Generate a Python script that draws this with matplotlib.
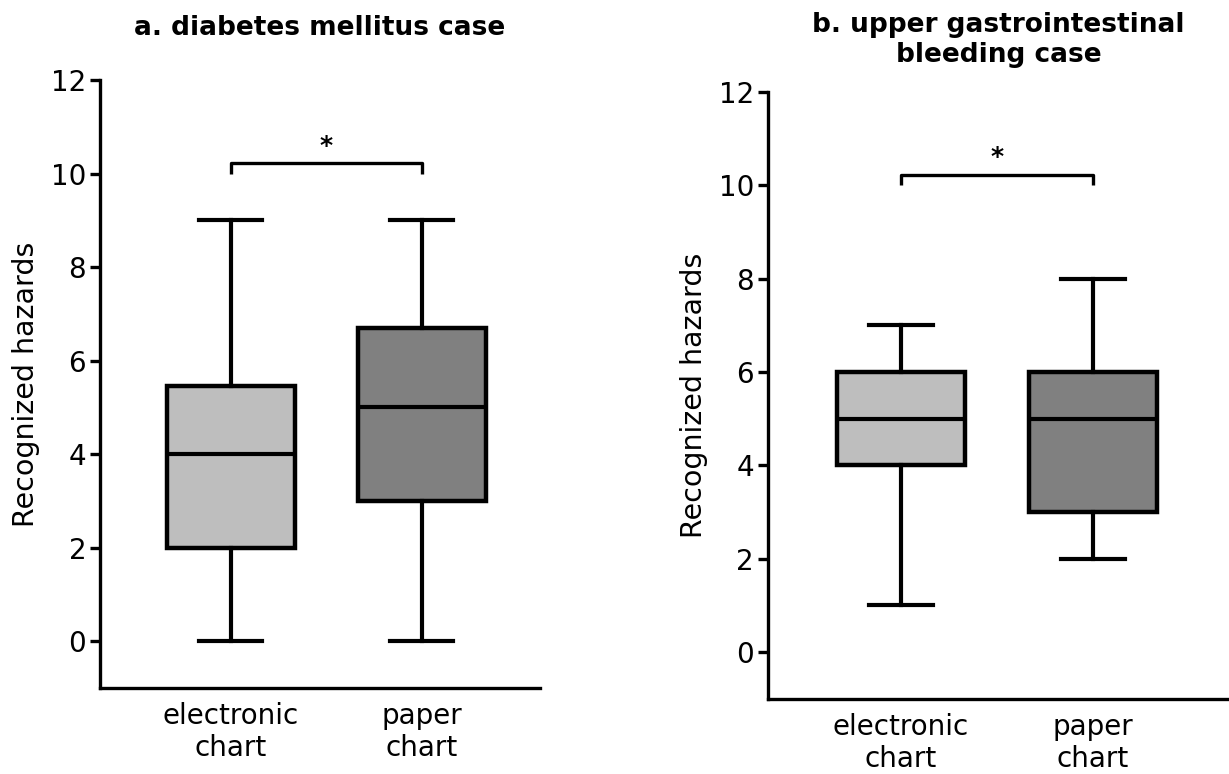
import matplotlib
matplotlib.use("Agg")
import matplotlib.pyplot as plt

plt.rcParams['font.family'] = ['DejaVu Sans']

categories = ["electronic\nchart", "paper\nchart"]
colors = ["#bebebe", "#808080"]

# panel a: diabetes mellitus case
a_whislo = [0, 0]
a_q1 = [2, 3]
a_med = [4, 5]
a_q3 = [5.45, 6.7]
a_whishi = [9, 9]

# panel b: upper gastrointestinal bleeding case
b_whislo = [1, 2]
b_q1 = [4, 3]
b_med = [5, 5]
b_q3 = [6, 6]
b_whishi = [7, 8]

titles = ["a. diabetes mellitus case", "b. upper gastrointestinal\nbleeding case"]

fig = plt.figure(figsize=(12.29, 7.74), dpi=100)
axA = fig.add_axes([0.0814, 0.1111, 0.358, 0.7855])
axB = fig.add_axes([0.6249, 0.0973, 0.3751, 0.7838])

def draw(ax, lo, q1, med, q3, hi, title, xlim, title_y):
    stats = []
    for i in range(2):
        stats.append(dict(whislo=lo[i], q1=q1[i], med=med[i], q3=q3[i], whishi=hi[i], fliers=[], label=categories[i]))
    bp = ax.bxp(stats, positions=[1, 2], widths=0.67, patch_artist=True, showfliers=False,
                boxprops=dict(linewidth=3.2, edgecolor='black'),
                medianprops=dict(color='black', linewidth=3),
                whiskerprops=dict(color='black', linewidth=3),
                capprops=dict(color='black', linewidth=3),
                capwidths=0.33)
    for patch, c in zip(bp['boxes'], colors):
        patch.set_facecolor(c)
    ax.set_ylim(-1, 12)
    ax.set_xlim(*xlim)
    ax.set_yticks([0, 2, 4, 6, 8, 10, 12])
    ax.spines['top'].set_visible(False)
    ax.spines['right'].set_visible(False)
    ax.spines['left'].set_bounds(-1, 12)
    for s in ['left', 'bottom']:
        ax.spines[s].set_linewidth(2.4)
    ax.tick_params(axis='y', direction='out', length=7, width=2.4, labelsize=20, pad=3)
    ax.tick_params(axis='x', length=0, labelsize=20, pad=10)
    ax.set_ylabel("Recognized hazards", fontsize=20.5, labelpad=8)
    # significance bracket
    ax.plot([1, 1, 2, 2], [10, 10.22, 10.22, 10], color='black', linewidth=2.4, solid_capstyle='butt')
    ax.text(1.5, 10.6, "*", ha='center', va='center', fontsize=18, fontweight='bold')
    ax.set_title(title, fontsize=19, fontweight='bold', y=title_y, linespacing=1.2)
    for lab in ax.get_xticklabels():
        lab.set_linespacing(1.2)

draw(axA, a_whislo, a_q1, a_med, a_q3, a_whishi, titles[0], (0.314, 2.62), 1.06)
draw(axB, b_whislo, b_q1, b_med, b_q3, b_whishi, titles[1], (0.307, 2.708), 1.035)

fig.savefig("out.png", dpi=100)
